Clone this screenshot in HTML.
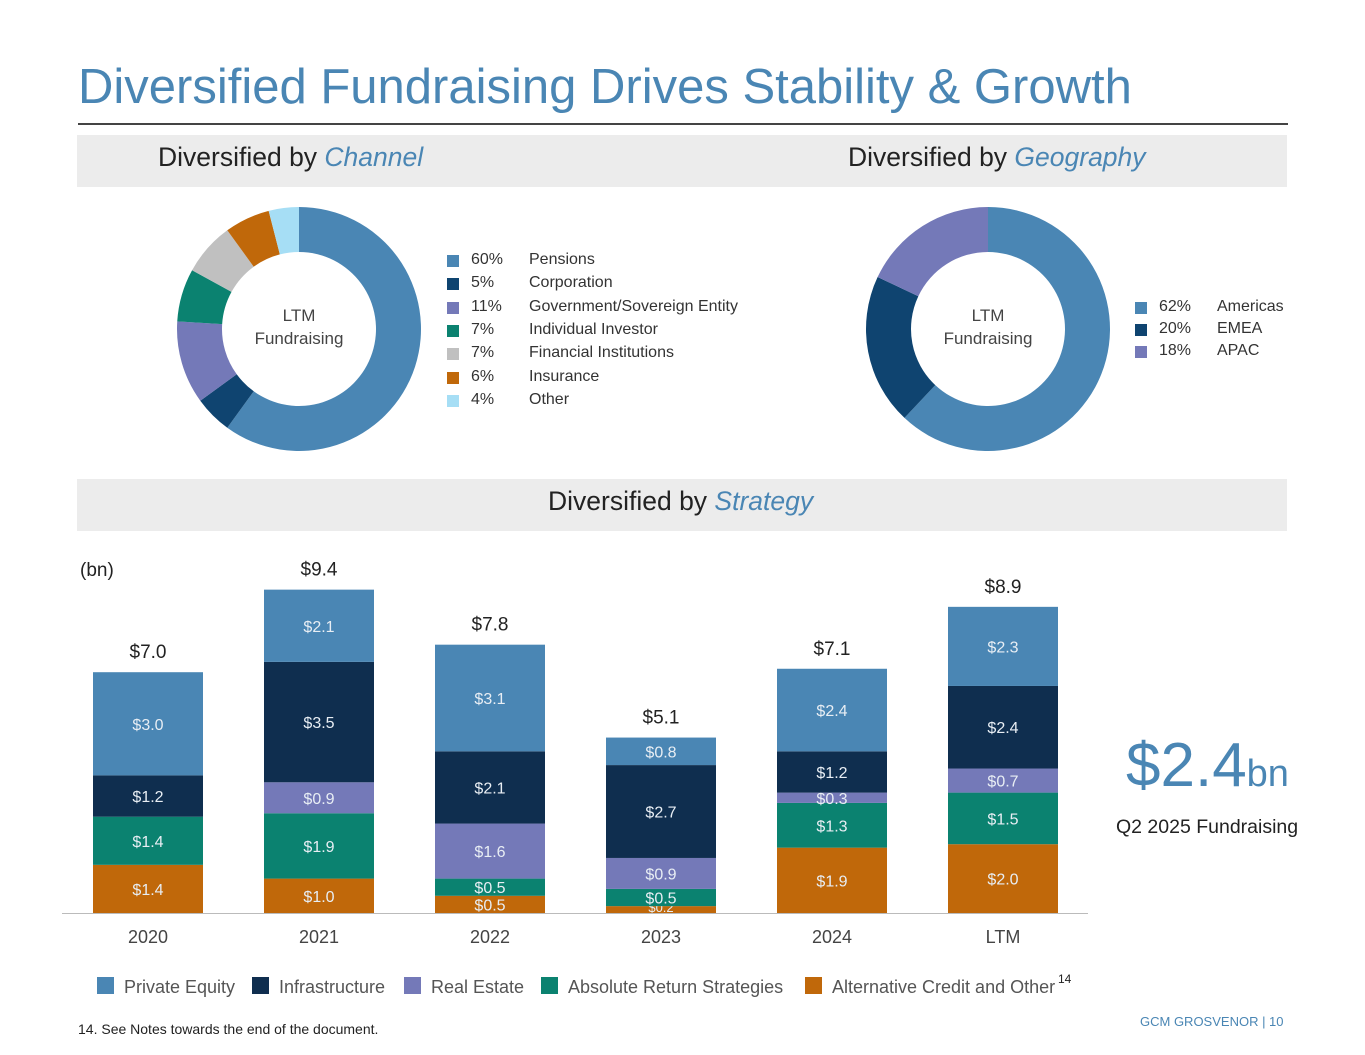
<!DOCTYPE html>
<html><head><meta charset="utf-8"><style>
body{margin:0;background:#fff;font-family:"Liberation Sans",sans-serif;}
#page{position:relative;width:1365px;height:1055px;overflow:hidden;}
.abs{position:absolute;}
.band{position:absolute;left:77px;width:1210px;height:52px;background:#ececec;}
.bt{position:absolute;font-size:26.5px;color:#222;white-space:nowrap;}
.bt i{color:#4a86b4;}
.leg{position:absolute;font-size:16px;color:#333;white-space:nowrap;}
.sw{position:absolute;width:12px;height:12px;}
</style></head><body>
<div id="page">
<div class="abs" style="left:78px;top:59px;font-size:49px;color:#4a86b4;white-space:nowrap;">Diversified Fundraising Drives Stability &amp; Growth</div>
<div class="abs" style="left:78px;top:123px;width:1210px;height:1.5px;background:#444;"></div>
<div class="band" style="top:135px;"></div>
<div class="bt" style="left:158px;top:142px;">Diversified by <i>Channel</i></div>
<div class="bt" style="left:848px;top:142px;">Diversified by <i>Geography</i></div>
<div class="band" style="top:479px;"></div>
<div class="bt" style="left:548px;top:486px;">Diversified by <i>Strategy</i></div>

<svg id="pies" class="abs" style="left:0;top:0" width="1365" height="1055"></svg>
<div id="legs"></div>

<svg id="bars" class="abs" style="left:0;top:0" width="1365" height="1055"></svg>

<div class="abs" style="left:80px;top:560px;font-size:19px;color:#222;">(bn)</div>
<div class="abs" style="left:1126px;top:730px;font-size:62px;color:#4a86b4;white-space:nowrap;">$2.4<span style="font-size:38px">bn</span></div>
<div class="abs" style="left:1116px;top:816px;font-size:19.5px;color:#222;white-space:nowrap;">Q2 2025 Fundraising</div>
<div class="abs" style="left:78px;top:1021px;font-size:14px;color:#222;">14. See Notes towards the end of the document.</div>
<div class="abs" style="left:1140px;top:1014px;font-size:13px;color:#4a86b4;">GCM GROSVENOR | 10</div>
</div>
<script>
const NS="http://www.w3.org/2000/svg";
function mk(parent,tag,attrs){const e=document.createElementNS(NS,tag);for(const k in attrs)e.setAttribute(k,attrs[k]);parent.appendChild(e);return e;}
const channelLabels=["Pensions","Corporation","Government/Sovereign Entity","Individual Investor","Financial Institutions","Insurance","Other"];
const channelValues=[60,5,11,7,7,6,4];
const channelColors=["#4a86b4","#0f4470","#7479b8","#0b8270","#c0c0c0","#c0680a","#a6def5"];
const geoLabels=["Americas","EMEA","APAC"];
const geoValues=[62,20,18];
const geoColors=["#4a86b4","#0f4470","#7479b8"];
const pies=document.getElementById('pies');
function donut(cx,cy,vals,cols,names){
  const R=122,r=77;let tot=vals.reduce((a,b)=>a+b,0),a0=-Math.PI/2;
  vals.forEach((v,i)=>{const a1=a0+v/tot*2*Math.PI;const L=(a1-a0)>Math.PI?1:0;
    const p=(a,rr)=>[cx+rr*Math.cos(a),cy+rr*Math.sin(a)];
    const [x0,y0]=p(a0,R),[x1,y1]=p(a1,R),[x2,y2]=p(a1,r),[x3,y3]=p(a0,r);
    const s=mk(pies,'path',{d:`M${x0},${y0}A${R},${R} 0 ${L} 1 ${x1},${y1}L${x2},${y2}A${r},${r} 0 ${L} 0 ${x3},${y3}Z`,fill:cols[i]});
    
    
    a0=a1;});
  ["LTM","Fundraising"].forEach((t,j)=>{const tx=mk(pies,'text',{x:cx,y:cy-8+j*23,'text-anchor':'middle','font-size':17,fill:'#444'});tx.textContent=t;
    
    });
}
donut(299,329,channelValues,channelColors,channelLabels);
donut(988,329,geoValues,geoColors,geoLabels);
const legs=document.getElementById('legs');
function legend(x,y,dy,vals,cols,names){
  vals.forEach((v,i)=>{const d=document.createElement('div');d.className='leg';d.style.left=x+'px';d.style.top=(y+i*dy)+'px';
    d.innerHTML=`<span class="sw" style="left:0;top:4px;background:${cols[i]}"></span><span style="position:absolute;left:24px">${v}%</span><span style="position:absolute;left:82px">${names[i]}</span>`;
    
    
    legs.appendChild(d);});
}
legend(447,251,23.3,channelValues,channelColors,channelLabels);
legend(1135,298,22,geoValues,geoColors,geoLabels);

const years=["2020","2021","2022","2023","2024","LTM"];
const seriesNames=["Alternative Credit and Other","Absolute Return Strategies","Real Estate","Infrastructure","Private Equity"];
const credit=[1.4,1.0,0.5,0.2,1.9,2.0];
const absRet=[1.4,1.9,0.5,0.5,1.3,1.5];
const realEstate=[0,0.9,1.6,0.9,0.3,0.7];
const infra=[1.2,3.5,2.1,2.7,1.2,2.4];
const privEq=[3.0,2.1,3.1,0.8,2.4,2.3];
const totals=["$7.0","$9.4","$7.8","$5.1","$7.1","$8.9"];
const series=[credit,absRet,realEstate,infra,privEq];
const colors=["#c0680a","#0b8270","#7479b8","#0f2e4f","#4a86b4"];
const bars=document.getElementById('bars');
const base=913,k=34.4,bw=110;
const xOf=i=>93+i*171;const yOf=v=>base-v*k;
years.forEach((yr,i)=>{let cum=0;
  series.forEach((s,j)=>{const v=s[i];if(v<=0)return;const y1=yOf(cum+v),y0=yOf(cum);
    const r=mk(bars,'rect',{x:xOf(i),y:y1,width:bw,height:y0-y1,fill:colors[j]});
    
    
    const t=mk(bars,'text',{x:xOf(i)+bw/2,y:(y0+y1)/2+6,'text-anchor':'middle','font-size':(v<0.3?13:16),fill:'#e8eef4'});
    if(v<0.3)t.setAttribute('y',y0-1);
    t.textContent='$'+v.toFixed(1);
    
    
    cum+=v;});
  const tt=mk(bars,'text',{x:xOf(i)+bw/2,y:yOf(cum)-14,'text-anchor':'middle','font-size':19,fill:'#222'});tt.textContent=totals[i];
  
  
  const xl=mk(bars,'text',{x:xOf(i)+bw/2,y:943,'text-anchor':'middle','font-size':18,fill:'#444'});xl.textContent=yr;
  
  
});
const ax=mk(bars,'line',{x1:62,x2:1088,y1:base+0.5,y2:base+0.5,stroke:'#bbb','stroke-width':1});


const legOrder=[4,3,2,1,0];const legX=[97,252,404,541,805];
legOrder.forEach((j,n)=>{const r=mk(bars,'rect',{x:legX[n],y:977,width:17,height:17,fill:colors[j]});
  
  
  const t=mk(bars,'text',{x:legX[n]+27,y:993,'font-size':18,fill:'#555'});t.textContent=seriesNames[j];
  
  });
const sup=mk(bars,'text',{x:1058,y:983,'font-size':12,fill:'#222'});sup.textContent='14';


</script>
</body></html>
